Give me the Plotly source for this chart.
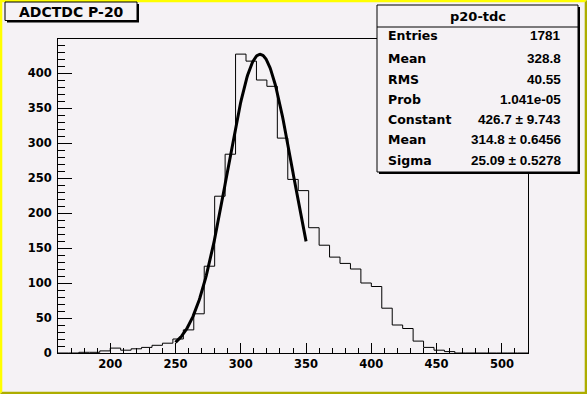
import numpy as np
import plotly.graph_objects as go

# ---------------- data ----------------
bin_low = 160
bin_width = 8
counts = [0, 0, 1, 1, 3, 7, 4, 6, 8, 11, 14, 20, 33, 56, 124, 224, 284, 427, 417,
          390, 381, 307, 248, 232, 179, 154, 137, 128, 120, 100, 95, 64, 40, 35,
          17, 8, 4, 2, 0, 0, 0, 0, 0, 0, 0]
bin_edges = [bin_low + bin_width * i for i in range(len(counts) + 1)]

fit_constant = 426.7
fit_mean = 314.8
fit_sigma = 25.09
fit_range = [250, 350]

stat_title = "p20-tdc"
stat_labels = ["Entries", "Mean", "RMS", "Prob", "Constant", "Mean", "Sigma"]
stat_values = ["1781", "328.8", "40.55", "1.041e-05",
               "426.7 \u00b1 9.743", "314.8 \u00b1 0.6456", "25.09 \u00b1 0.5278"]
hist_title = "ADCTDC P-20"

x_ticks = [200, 250, 300, 350, 400, 450, 500]
y_ticks = [0, 50, 100, 150, 200, 250, 300, 350, 400]

# ---------------- layout geometry (pixels) ----------------
W, H = 587, 394
L, R, T, B = 58, 528, 39, 353
BG = "#F5F2F5"
YEL = "#FFFF00"
OLIVE = "#ADAD00"


def fx(px):
    return (px - L) / (R - L)


def fy(py):
    return (B - py) / (B - T)


def path(pts):
    return "M " + " L ".join(f"{fx(x):.5f},{fy(y):.5f}" for x, y in pts) + " Z"


step_x = bin_edges
step_y = counts + [counts[-1]]

fx_pts = np.linspace(fit_range[0], fit_range[1], 200)
fy_pts = fit_constant * np.exp(-0.5 * ((fx_pts - fit_mean) / fit_sigma) ** 2)

fig = go.Figure()
fig.add_trace(go.Scatter(x=step_x, y=step_y, mode="lines", line_shape="hv",
                         line=dict(color="black", width=1), hoverinfo="skip"))
fig.add_trace(go.Scatter(x=fx_pts, y=fy_pts, mode="lines",
                         line=dict(color="black", width=3), hoverinfo="skip"))

tickfont = dict(family="DejaVu Sans", size=11.5, color="black", weight="bold")

fig.update_layout(
    width=W, height=H, autosize=False,
    margin=dict(l=L, r=W - R, t=T, b=H - B, pad=0),
    paper_bgcolor=BG, plot_bgcolor=BG,
    showlegend=False,
    xaxis=dict(range=[bin_edges[0], bin_edges[-1]], tickvals=x_ticks,
               ticks="inside", ticklen=10, tickwidth=1, tickcolor="black",
               showline=True, linecolor="black", linewidth=1, mirror=True,
               showgrid=False, zeroline=False, tickfont=tickfont,
               minor=dict(dtick=10, ticks="inside", ticklen=5, tickcolor="black",
                          showgrid=False)),
    yaxis=dict(range=[0, 448.6], tickvals=y_ticks,
               ticks="inside", ticklen=14, tickwidth=1, tickcolor="black",
               showline=True, linecolor="black", linewidth=1, mirror=True,
               showgrid=False, zeroline=False, tickfont=tickfont,
               ticklabelstandoff=3,
               minor=dict(dtick=10, ticks="inside", ticklen=7, tickcolor="black",
                          showgrid=False)),
)

shapes = []
# canvas bevel border
shapes.append(dict(type="path", xref="paper", yref="paper", layer="above",
                   path=path([(0, 0), (W, 0), (W - 2.3, 2.3), (2.3, 2.3), (2.3, H - 2.3), (0, H)]),
                   fillcolor=YEL, line=dict(width=0)))
shapes.append(dict(type="path", xref="paper", yref="paper", layer="above",
                   path=path([(W, 0), (W, H), (0, H), (2.3, H - 2.3), (W - 2.3, H - 2.3), (W - 2.3, 2.3)]),
                   fillcolor=OLIVE, line=dict(width=0)))


def box(x0, y0, x1, y1):
    shapes.append(dict(type="rect", xref="paper", yref="paper", layer="above",
                       x0=fx(x0 + 2), x1=fx(x1 + 2), y0=fy(y0 + 2), y1=fy(y1 + 2),
                       fillcolor="black", line=dict(width=0)))
    shapes.append(dict(type="rect", xref="paper", yref="paper", layer="above",
                       x0=fx(x0), x1=fx(x1), y0=fy(y0), y1=fy(y1),
                       fillcolor=BG, line=dict(color="black", width=1)))


box(5, 2, 137, 20.5)
box(377, 5, 578, 172)
shapes.append(dict(type="line", xref="paper", yref="paper", layer="above",
                   x0=fx(377), x1=fx(578), y0=fy(27), y1=fy(27),
                   line=dict(color="black", width=1)))
fig.update_layout(shapes=shapes)

ann = []
ann.append(dict(x=fx(71), y=fy(12), xref="paper", yref="paper", text=hist_title,
                showarrow=False, xanchor="center", yanchor="middle",
                font=dict(family="DejaVu Sans", size=14, color="black", weight="bold")))
ann.append(dict(x=fx(477.5), y=fy(16.5), xref="paper", yref="paper", text=stat_title,
                showarrow=False, xanchor="center", yanchor="middle",
                font=dict(family="DejaVu Sans", size=13, color="black", weight="bold")))
row_y = [36, 58.5, 79, 99.5, 119.5, 139.5, 160]
for lab, val, ry in zip(stat_labels, stat_values, row_y):
    ann.append(dict(x=fx(386), y=fy(ry), xref="paper", yref="paper", text=lab,
                    showarrow=False, xanchor="left", yanchor="middle",
                    font=dict(family="DejaVu Sans", size=12.5, color="black", weight="bold")))
    ann.append(dict(x=fx(563), y=fy(ry), xref="paper", yref="paper", text=val,
                    showarrow=False, xanchor="right", yanchor="middle",
                    font=dict(family="Liberation Sans", size=13.5, color="black", weight="bold")))
fig.update_layout(annotations=ann)

fig.write_html("out.html", config={"displayModeBar": False},
               post_script="document.body.style.margin='0';document.body.style.overflow='hidden';")
